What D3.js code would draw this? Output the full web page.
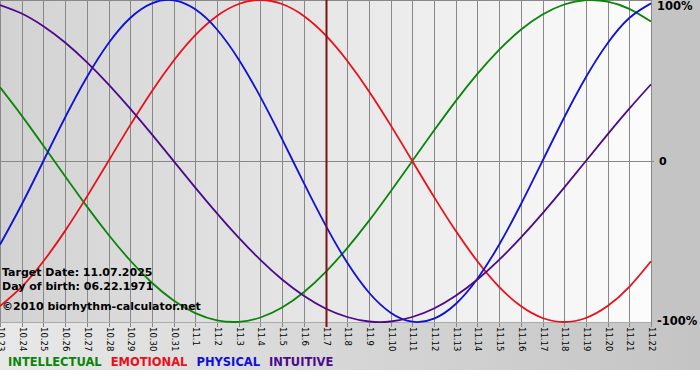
<!DOCTYPE html>
<html>
<head>
<meta charset="utf-8">
<script src="https://cdn.jsdelivr.net/npm/d3@7"></script>
<style>
  body { margin: 0; background: #fff; }
  svg { display: block; }
  text { font-family: "DejaVu Sans", Verdana, sans-serif; }
</style>
</head>
<body>
<div class="content"></div>
<script>
var width = 700
var height = 380

// day labels 10.23 .. 11.22
var days = ['10.23', '10.24', '10.25', '10.26', '10.27', '10.28', '10.29', '10.30', '10.31',
    '11.1', '11.2', '11.3', '11.4', '11.5', '11.6', '11.7', '11.8', '11.9', '11.10', '11.11',
    '11.12', '11.13', '11.14', '11.15', '11.16', '11.17', '11.18', '11.19', '11.20', '11.21', '11.22']

var intellectual = [0.458, 0.282, 0.095, -0.095, -0.282, -0.458, -0.618, -0.756, -0.866, -0.945,
    -0.990, -0.999, -0.972, -0.910, -0.815, -0.690, -0.541, -0.372, -0.189, 0.000, 0.189, 0.372,
    0.541, 0.690, 0.815, 0.910, 0.972, 0.999, 0.990, 0.945, 0.866]
var emotional = [-0.901, -0.782, -0.623, -0.434, -0.223, 0.000, 0.223, 0.434, 0.623, 0.782, 0.901,
    0.975, 1.000, 0.975, 0.901, 0.782, 0.623, 0.434, 0.223, 0.000, -0.223, -0.434, -0.623, -0.782,
    -0.901, -0.975, -1.000, -0.975, -0.901, -0.782, -0.623]
var physical = [-0.520, -0.270, 0.000, 0.270, 0.520, 0.731, 0.888, 0.979, 0.998, 0.942, 0.817,
    0.631, 0.398, 0.136, -0.136, -0.398, -0.631, -0.817, -0.942, -0.998, -0.979, -0.888, -0.731,
    -0.520, -0.270, 0.000, 0.270, 0.520, 0.731, 0.888, 0.979]
var intuitive = [0.969, 0.916, 0.837, 0.736, 0.614, 0.476, 0.325, 0.165, 0.000, -0.165, -0.325,
    -0.476, -0.614, -0.736, -0.837, -0.916, -0.969, -0.997, -0.997, -0.969, -0.916, -0.837, -0.736,
    -0.614, -0.476, -0.325, -0.165, 0.000, 0.165, 0.325, 0.476]

var yTicks = [1, 0, -1]
var yTickLabels = ['100%', '0', '-100%']
var targetDay = '11.7'
var infoLines = ['Target Date: 11.07.2025', 'Day of birth: 06.22.1971', '\u00a92010 biorhythm-calculator.net']

var series = [
    { name: 'INTELLECTUAL', values: intellectual, color: '#0a850a' },
    { name: 'EMOTIONAL', values: emotional, color: '#e8101a' },
    { name: 'PHYSICAL', values: physical, color: '#1010d6' },
    { name: 'INTUITIVE', values: intuitive, color: '#4c0a8a' }
]

var plotW = 651
var plotH = 322

var x = d3.scaleLinear()
    .domain([0, days.length - 1])
    .range([0, plotW])

var y = d3.scaleLinear()
    .domain([-1, 1])
    .range([plotH, 0])

var svg = d3.select('.content').append('svg')
    .attr('width', width)
    .attr('height', height)

var defs = svg.append('defs')
var g1 = defs.append('linearGradient').attr('id', 'plotBg')
g1.append('stop').attr('offset', '0%').attr('stop-color', '#d2d2d2')
g1.append('stop').attr('offset', '100%').attr('stop-color', '#fcfcfc')
var g2 = defs.append('linearGradient').attr('id', 'bottomBg')
g2.append('stop').attr('offset', '0%').attr('stop-color', '#e8e8e8')
g2.append('stop').attr('offset', '100%').attr('stop-color', '#c4c4c4')

// backgrounds
svg.append('rect')
    .attr('x', 0).attr('y', 0)
    .attr('width', width).attr('height', 370)
    .style('fill', 'url(#bottomBg)')
svg.append('rect')
    .attr('x', plotW).attr('y', 0)
    .attr('width', width - plotW).attr('height', plotH)
    .style('fill', '#c4c4c4')
svg.append('rect')
    .attr('x', 0).attr('y', 0)
    .attr('width', plotW).attr('height', plotH)
    .style('fill', 'url(#plotBg)')

// vertical day grid
svg.append('g')
    .attr('class', 'grid')
    .selectAll('line')
    .data(days)
    .enter().append('line')
    .attr('x1', function(d, i) { return Math.round(x(i)) + 0.5 })
    .attr('x2', function(d, i) { return Math.round(x(i)) + 0.5 })
    .attr('y1', 0)
    .attr('y2', plotH + 5)
    .style('stroke', '#888')
    .style('stroke-width', 1)

// top border and zero line
svg.append('line')
    .attr('x1', 0).attr('x2', plotW)
    .attr('y1', 0.5).attr('y2', 0.5)
    .style('stroke', '#888')
svg.append('line')
    .attr('x1', 0).attr('x2', plotW + 3)
    .attr('y1', Math.round(y(0)) + 0.5).attr('y2', Math.round(y(0)) + 0.5)
    .style('stroke', '#888')
svg.append('line')
    .attr('x1', 0).attr('x2', plotW)
    .attr('y1', plotH + 0.5).attr('y2', plotH + 0.5)
    .style('stroke', '#aaa')

// x labels
svg.append('g')
    .attr('class', 'xlabels')
    .selectAll('text')
    .data(days)
    .enter().append('text')
    .attr('transform', function(d, i) { return 'translate(' + (Math.round(x(i)) + 0.5) + ',' + (plotH + 5) + ') rotate(90)' })
    .attr('dy', '0.35em')
    .style('font-size', '8.5px')
    .style('fill', '#000')
    .text(function(d) { return d })

// y labels
svg.append('g')
    .attr('class', 'ylabels')
    .selectAll('text')
    .data(yTicks)
    .enter().append('text')
    .attr('x', function(d) { return d === 0 ? plotW + 8 : plotW + 6 })
    .attr('y', function(d) { return y(d) })
    .attr('dy', function(d) { return d === 1 ? '0.9em' : (d === 0 ? '0.4em' : '0.3em') })
    .style('font-size', function(d) { return d === 0 ? '11px' : '11.5px' })
    .style('font-weight', 'bold')
    .text(function(d, i) { return yTickLabels[i] })

// curves
var line = d3.line()
    .x(function(d, i) { return x(i) })
    .y(function(d) { return y(d) })
    .curve(d3.curveNatural)

svg.append('g')
    .attr('class', 'curves')
    .selectAll('path')
    .data(series)
    .enter().append('path')
    .attr('d', function(d) { return line(d.values) })
    .style('fill', 'none')
    .style('stroke', function(d) { return d.color })
    .style('stroke-width', 1.8)

// target date marker
var ti = days.indexOf(targetDay)
svg.append('line')
    .attr('x1', Math.round(x(ti)) + 0.5).attr('x2', Math.round(x(ti)) + 0.5)
    .attr('y1', 0).attr('y2', plotH + 5)
    .style('stroke', '#7a1414')
    .style('stroke-width', 2)

// info text
svg.append('g')
    .attr('class', 'info')
    .selectAll('text')
    .data(infoLines)
    .enter().append('text')
    .attr('x', 2)
    .attr('y', function(d, i) { return [276, 290, 310][i] })
    .style('font-size', '11px')
    .style('font-weight', 'bold')
    .style('fill', '#000')
    .text(function(d) { return d })

// legend
var lx = 8
series.forEach(function(s) {
    var t = svg.append('text')
        .attr('x', lx)
        .attr('y', 366)
        .style('font-size', '11.5px')
        .style('font-weight', 'bold')
        .style('fill', s.color)
        .text(s.name)
    lx += t.node().getComputedTextLength() + 9
})
</script>
</body>
</html>
